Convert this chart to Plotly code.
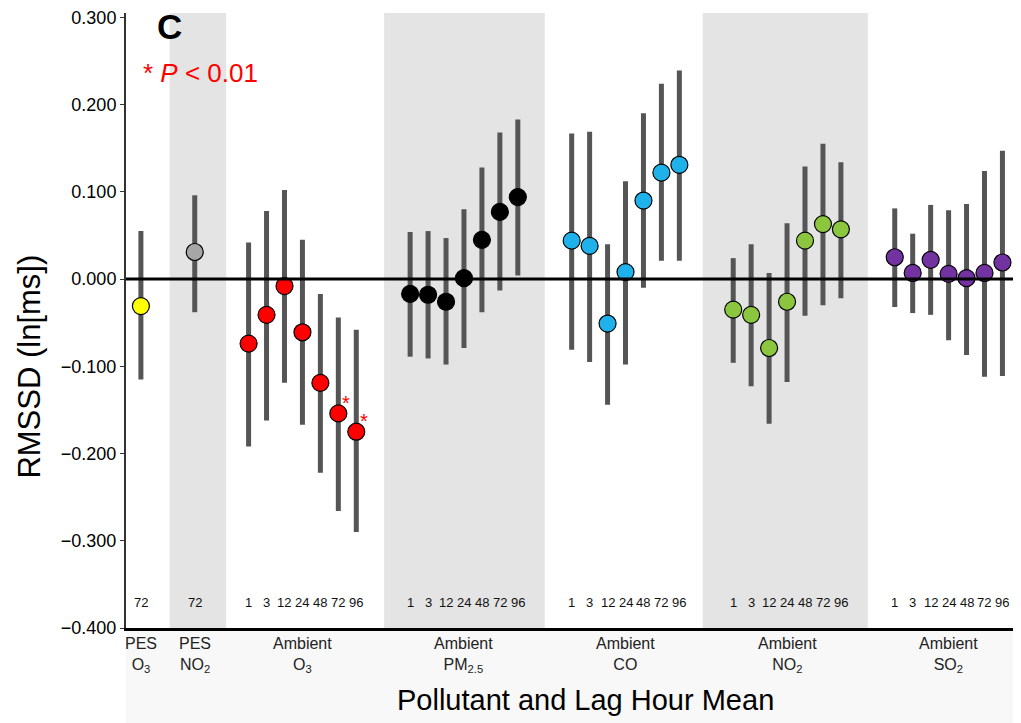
import plotly.graph_objects as go

# ---- data ----
group_labels = ["PES<br>O<sub>3</sub>", "PES<br>NO<sub>2</sub>", "Ambient<br>O<sub>3</sub>",
                "Ambient<br>PM<sub>2.5</sub>", "Ambient<br>CO", "Ambient<br>NO<sub>2</sub>",
                "Ambient<br>SO<sub>2</sub>"]
group_colors = ["#ffff00", "#a6a6a6", "#ff0000", "#000000", "#1fb2ea", "#8cc63f", "#7232a0"]

lags_pes = [72]
lags_amb = [1, 3, 12, 24, 48, 72, 96]

pes_o3_est = [-0.031]
pes_o3_lo = [-0.115]
pes_o3_hi = [0.055]

pes_no2_est = [0.031]
pes_no2_lo = [-0.038]
pes_no2_hi = [0.096]

o3_est = [-0.074, -0.041, -0.008, -0.061, -0.119, -0.154, -0.175]
o3_lo = [-0.192, -0.162, -0.119, -0.167, -0.222, -0.266, -0.290]
o3_hi = [0.042, 0.078, 0.102, 0.045, -0.017, -0.044, -0.058]

pm_est = [-0.017, -0.018, -0.026, 0.001, 0.045, 0.077, 0.094]
pm_lo = [-0.089, -0.091, -0.098, -0.079, -0.038, -0.013, 0.004]
pm_hi = [0.054, 0.055, 0.047, 0.080, 0.128, 0.168, 0.183]

co_est = [0.044, 0.038, -0.051, 0.008, 0.090, 0.122, 0.131]
co_lo = [-0.081, -0.095, -0.144, -0.098, -0.010, 0.021, 0.021]
co_hi = [0.167, 0.169, 0.040, 0.112, 0.190, 0.224, 0.239]

no2_est = [-0.035, -0.041, -0.079, -0.026, 0.044, 0.063, 0.057]
no2_lo = [-0.096, -0.123, -0.166, -0.118, -0.042, -0.030, -0.022]
no2_hi = [0.024, 0.040, 0.007, 0.064, 0.129, 0.155, 0.134]

so2_est = [0.025, 0.007, 0.022, 0.006, 0.001, 0.007, 0.019]
so2_lo = [-0.032, -0.039, -0.041, -0.070, -0.087, -0.112, -0.111]
so2_hi = [0.081, 0.052, 0.085, 0.079, 0.086, 0.124, 0.147]

significant_o3_lags = [72, 96]

y_ticks = [0.3, 0.2, 0.1, 0.0, -0.1, -0.2, -0.3, -0.4]

groups = [
    (lags_pes, pes_o3_est, pes_o3_lo, pes_o3_hi),
    (lags_pes, pes_no2_est, pes_no2_lo, pes_no2_hi),
    (lags_amb, o3_est, o3_lo, o3_hi),
    (lags_amb, pm_est, pm_lo, pm_hi),
    (lags_amb, co_est, co_lo, co_hi),
    (lags_amb, no2_est, no2_lo, no2_hi),
    (lags_amb, so2_est, so2_lo, so2_hi),
]
group_starts = [0, 3, 6, 15, 24, 33, 42]
band_edges = [-0.83, 1.6, 4.75, 13.55, 22.5, 31.3, 40.5, 48.7]
band_gray = [False, True, False, True, False, True, False]

FONT = "Liberation Sans, Arial, Helvetica, sans-serif"
NARROW = "Liberation Sans Narrow, Liberation Sans, Arial, sans-serif"

fig = go.Figure()
shapes = []
annotations = []

# background bands
for i, g in enumerate(band_gray):
    if g:
        shapes.append(dict(type="rect", xref="x", yref="y", x0=band_edges[i], x1=band_edges[i + 1],
                           y0=-0.4, y1=0.305, fillcolor="#e4e4e4", line_width=0, layer="below"))

# light area below axis
shapes.append(dict(type="rect", xref="paper", yref="paper", x0=0, x1=1, y0=-0.16, y1=0,
                   fillcolor="#f8f8f8", line_width=0, layer="below"))

# zero line
shapes.append(dict(type="line", xref="x", yref="y", x0=band_edges[0], x1=band_edges[-1], y0=0, y1=0,
                   line=dict(color="black", width=3), layer="above"))

for gi, (lags, est, lo, hi) in enumerate(groups):
    xs = [group_starts[gi] + k for k in range(len(lags))]
    fig.add_trace(go.Scatter(
        x=xs, y=est, mode="markers",
        marker=dict(size=17, color=group_colors[gi], line=dict(color="black", width=1.2)),
        error_y=dict(type="data", symmetric=False,
                     array=[h - e for h, e in zip(hi, est)],
                     arrayminus=[e - l for e, l in zip(est, lo)],
                     color="#555555", thickness=5, width=0),
        showlegend=False, hoverinfo="skip", cliponaxis=False))
    for x, lag in zip(xs, lags):
        annotations.append(dict(x=x, y=-0.371, xref="x", yref="y", text=str(lag), showarrow=False,
                                font=dict(family=NARROW, size=13, color="#111111")))
    center = (xs[0] + xs[-1]) / 2
    annotations.append(dict(x=center, y=-0.008, xref="x", yref="paper", yanchor="top", text=group_labels[gi],
                            showarrow=False, font=dict(family=FONT, size=16, color="#222222")))
    if gi == 2:
        for x, lag, e in zip(xs, lags, est):
            if lag in significant_o3_lags:
                annotations.append(dict(x=x + 0.42, y=e + 0.012, xref="x", yref="y", text="*",
                                        showarrow=False, font=dict(family=FONT, size=20, color="#ff0000")))

annotations.append(dict(x=1.6, y=0.289, xref="x", yref="y", text="<b>C</b>", showarrow=False,
                        font=dict(family=FONT, size=35, color="black")))
annotations.append(dict(x=0.0, y=0.2366, xref="x", yref="y", xanchor="left", yanchor="middle",
                        text="* <i>P</i> < 0.01", showarrow=False,
                        font=dict(family=FONT, size=26, color="#ff0000")))
# axis titles
annotations.append(dict(x=0.517, y=-0.117, xref="paper", yref="paper", yanchor="middle",
                        text="Pollutant and Lag Hour Mean", showarrow=False,
                        font=dict(family=FONT, size=29, color="black")))
annotations.append(dict(x=-0.108, y=0.425, xref="paper", yref="paper", xanchor="center", yanchor="middle",
                        text="RMSSD (ln[ms])", textangle=-90, showarrow=False,
                        font=dict(family=FONT, size=31, color="black")))

# page body has an 8px margin, so the figure is drawn 8px smaller and offset margins
fig.update_layout(
    width=1013, height=715,
    margin=dict(l=118, r=6, t=5, b=95),
    paper_bgcolor="white", plot_bgcolor="white",
    shapes=shapes, annotations=annotations,
    font=dict(family=FONT, color="black"),
    xaxis=dict(range=[band_edges[0], band_edges[-1]], showgrid=False, zeroline=False,
               showticklabels=False, ticks="", showline=True, linecolor="black", linewidth=3,
               automargin=False),
    yaxis=dict(range=[-0.4, 0.305], tickvals=y_ticks, tickformat=".3f", showgrid=False,
               zeroline=False, showline=True, linecolor="#333333", linewidth=2,
               ticks="outside", ticklen=4, tickcolor="#333333",
               ticklabeloverflow="allow",
               tickfont=dict(size=18, family=FONT), automargin=False),
)

fig.write_html("out.html")
